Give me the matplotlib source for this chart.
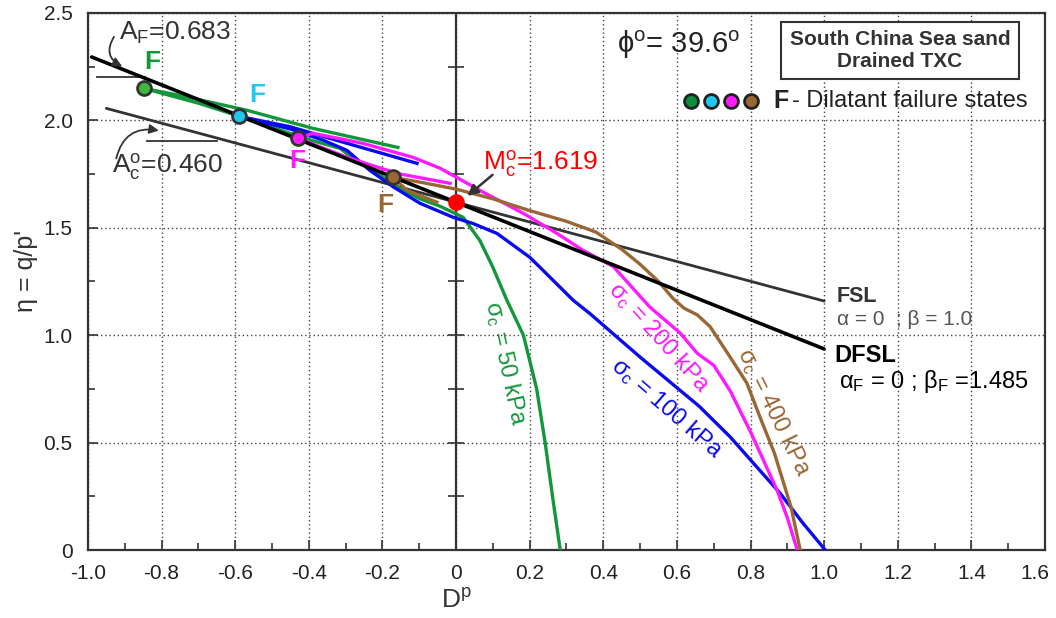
import matplotlib
matplotlib.use("Agg")
import matplotlib.pyplot as plt
import matplotlib.transforms as mtrans
import numpy as np

plt.rcParams['font.family'] = ['Liberation Sans', 'DejaVu Sans']
plt.rcParams['mathtext.fontset'] = 'custom'
plt.rcParams['mathtext.rm'] = 'Liberation Sans'
plt.rcParams['mathtext.it'] = 'Liberation Sans:italic'
plt.rcParams['mathtext.bf'] = 'Liberation Sans:bold'

# ---------------- data ----------------
M_c = 1.619
A_c = 0.460
A_F = 0.683
fsl_x = [-0.95, 1.0]
dfsl_x = [-0.99, 1.0]

# sigma_c = 50 kPa
g_load_x = [0.283, 0.262, 0.242, 0.219, 0.183, 0.138, 0.100, 0.065, 0.019, -0.043, -0.098, -0.160, -0.225, -0.270, -0.315, -0.389, -0.478, -0.590, -0.700, -0.848]
g_load_y = [0.0, 0.25, 0.50, 0.75, 1.00, 1.163, 1.316, 1.44, 1.549, 1.60, 1.635, 1.69, 1.767, 1.81, 1.87, 1.905, 1.955, 2.02, 2.08, 2.149]
g_post_x = [-0.848, -0.75, -0.568, -0.389, -0.158]
g_post_y = [2.149, 2.116, 2.047, 1.963, 1.874]

# sigma_c = 100 kPa
b_load_x = [1.003, 0.94, 0.88, 0.81, 0.745, 0.66, 0.50, 0.364, 0.318, 0.228, 0.20, 0.111, 0.046, -0.008, -0.098, -0.170, -0.234, -0.296, -0.360, -0.450, -0.590]
b_load_y = [0.0, 0.13, 0.265, 0.40, 0.526, 0.67, 0.898, 1.10, 1.163, 1.316, 1.363, 1.474, 1.52, 1.549, 1.614, 1.69, 1.767, 1.86, 1.907, 1.96, 2.019]
b_post_x = [-0.590, -0.45, -0.30, -0.106]
b_post_y = [2.019, 1.97, 1.895, 1.80]

# sigma_c = 200 kPa
m_load_x = [0.927, 0.90, 0.872, 0.80, 0.745, 0.70, 0.655, 0.609, 0.527, 0.427, 0.345, 0.274, 0.183, 0.065, -0.043, -0.117, -0.253, -0.389, -0.429]
m_load_y = [0.0, 0.15, 0.279, 0.55, 0.74, 0.86, 0.916, 1.01, 1.13, 1.32, 1.395, 1.474, 1.567, 1.674, 1.777, 1.828, 1.893, 1.94, 1.916]
m_post_x = [-0.429, -0.296, -0.160, -0.016]
m_post_y = [1.916, 1.828, 1.753, 1.707]

# sigma_c = 400 kPa
n_load_x = [0.935, 0.91, 0.865, 0.83, 0.79, 0.74, 0.69, 0.655, 0.62, 0.59, 0.55, 0.50, 0.45, 0.38, 0.30, 0.20, 0.10, 0.0, -0.09, -0.171]
n_load_y = [0.0, 0.20, 0.45, 0.60, 0.777, 0.91, 1.04, 1.095, 1.125, 1.17, 1.25, 1.33, 1.40, 1.48, 1.53, 1.58, 1.635, 1.68, 1.71, 1.735]
n_post_x = [-0.171, -0.133, -0.052]
n_post_y = [1.735, 1.674, 1.619]

# failure states
fail_x = [-0.848, -0.590, -0.429, -0.171]
fail_y = [2.149, 2.019, 1.916, 1.735]

x_ticks = [-1.0, -0.8, -0.6, -0.4, -0.2, 0, 0.2, 0.4, 0.6, 0.8, 1.0, 1.2, 1.4, 1.6]
x_ticklabels = ['-1.0', '-0.8', '-0.6', '-0.4', '-0.2', '0', '0.2', '0.4', '0.6', '0.8', '1.0', '1.2', '1.4', '1.6']
y_ticks = [0, 0.5, 1.0, 1.5, 2.0, 2.5]
y_ticklabels = ['0', '0.5', '1.0', '1.5', '2.0', '2.5']

GREEN = '#12973a'
CYAN = '#1ec8ef'
MAG = '#ff1aff'
BLUE = '#0a0af0'
BROWN = '#9a6634'

# ---------------- figure ----------------
fig = plt.figure(figsize=(10.56, 6.18), dpi=100)
ax = fig.add_axes([0.0833, 0.110, 0.9063, 0.869])
ax.set_xlim(-1.0, 1.6)
ax.set_ylim(0, 2.5)

ax.set_xticks(x_ticks)
ax.set_xticklabels(x_ticklabels)
ax.set_yticks(y_ticks)
ax.set_yticklabels(y_ticklabels)
ax.set_xticks(np.arange(-1.0, 1.61, 0.1), minor=True)
ax.set_yticks(np.arange(0, 2.51, 0.25), minor=True)
ax.tick_params(axis='both', which='both', direction='in', colors='#333333', labelcolor='#222222', labelsize=15)
ax.tick_params(axis='both', which='major', length=7, width=1.2)
ax.tick_params(axis='both', which='minor', length=5, width=1.2)
ax.tick_params(axis='x', pad=10)
ax.tick_params(axis='y', pad=11)
xl = ax.get_xticklabels()
xl[-1].set_transform(xl[-1].get_transform() + mtrans.ScaledTranslation(-7 / 72, 0, fig.dpi_scale_trans))
for s in ax.spines.values():
    s.set_color('#333333')
    s.set_linewidth(1.6)

ax.grid(True, which='major', color='#444444', linestyle=(0, (1, 2)), linewidth=1.0)
ax.set_axisbelow(True)

# vertical axis at D=0 with ticks
ax.axvline(0, color='#333333', lw=1.6, zorder=2)
yt = np.arange(0.25, 2.5, 0.25)
ax.plot(np.zeros_like(yt), yt, linestyle='none', marker='_', markersize=12, mew=1.2, color='#333333', zorder=2)

# FSL
ax.plot(fsl_x, [M_c - A_c * x for x in fsl_x], color='#333333', lw=2.0, zorder=3, solid_capstyle='round')

# curves
lw = 2.4
ax.plot(g_load_x, g_load_y, color=GREEN, lw=lw, zorder=4)
ax.plot(g_post_x, g_post_y, color=GREEN, lw=lw, zorder=4)
ax.plot(b_load_x, b_load_y, color=BLUE, lw=lw, zorder=4)
ax.plot(b_post_x, b_post_y, color=BLUE, lw=lw, zorder=4)
ax.plot(m_load_x, m_load_y, color=MAG, lw=lw, zorder=4)
ax.plot(m_post_x, m_post_y, color=MAG, lw=lw, zorder=4)
ax.plot(n_load_x, n_load_y, color=BROWN, lw=lw, zorder=4)
ax.plot(n_post_x, n_post_y, color=BROWN, lw=lw, zorder=4)

# DFSL
ax.plot(dfsl_x, [M_c - A_F * x for x in dfsl_x], color='black', lw=2.6, zorder=5, solid_capstyle='round')

# failure points
fcols = ['#3cb83c', CYAN, MAG, BROWN]
for xx, yy, cc in zip(fail_x, fail_y, fcols):
    ax.plot([xx], [yy], 'o', ms=10, mfc=cc, mec='#333333', mew=2, zorder=6)
ax.plot([0], [M_c], 'o', ms=12, color='#ff0000', mec='none', zorder=7)

# F labels
ax.text(-0.826, 2.27, 'F', color=GREEN, fontsize=19, fontweight='bold', ha='center', va='center', zorder=8)
ax.text(-0.54, 2.12, 'F', color=CYAN, fontsize=19, fontweight='bold', ha='center', va='center', zorder=8)
ax.text(-0.432, 1.81, 'F', color=MAG, fontsize=19, fontweight='bold', ha='center', va='center', zorder=8)
ax.text(-0.193, 1.605, 'F', color=BROWN, fontsize=19, fontweight='bold', ha='center', va='center', zorder=8)

# A_F annotation
ax.text(-0.915, 2.405, r'A$_\mathregular{F}$=0.683', fontsize=19, color='#333333', ha='left', va='center', zorder=8)
ax.annotate('', xy=(-0.90, 2.245), xytext=(-0.925, 2.40),
            arrowprops=dict(arrowstyle='-|>', color='#333333', lw=1.3, mutation_scale=14,
                            connectionstyle='arc3,rad=0.6'), zorder=8)
ax.plot([-0.976, -0.845], [2.2, 2.2], color='#333333', lw=1.3, zorder=3)

# A_c annotation
ax.text(-0.935, 1.785, r'A$_\mathregular{c}^\mathregular{o}$=0.460', fontsize=19, color='#333333', ha='left', va='center', zorder=8)
ax.annotate('', xy=(-0.80, 1.95), xytext=(-0.925, 1.81),
            arrowprops=dict(arrowstyle='-|>', color='#333333', lw=1.3, mutation_scale=14,
                            connectionstyle='arc3,rad=-0.5'), zorder=8)
ax.plot([-0.84, -0.65], [1.902, 1.902], color='#333333', lw=1.3, zorder=3)

# M_c annotation
ax.text(0.072, 1.80, r'M$_\mathregular{c}^\mathregular{o}$=1.619', fontsize=19, color='#ff0000', ha='left', va='center', zorder=8)
ax.annotate('', xy=(0.025, 1.64), xytext=(0.105, 1.755),
            arrowprops=dict(arrowstyle='-|>', color='#333333', lw=1.8, mutation_scale=16), zorder=8)

# phi
ax.text(0.605, 2.35, r'ϕ$^\mathregular{o}$= 39.6$^\mathregular{o}$', fontsize=21, color='#222222', ha='center', va='center')

# box
ax.text(1.206, 2.326, 'South China Sea sand\nDrained TXC', fontsize=15, fontweight='bold', color='#333333',
        ha='center', va='center', multialignment='center', linespacing=1.2,
        bbox=dict(boxstyle='square,pad=0.4', fc='white', ec='#333333', lw=1.5))

# legend row
for i, cc in enumerate(['#0b8f3a', CYAN, MAG, BROWN]):
    ax.plot([0.637 + i * 0.0545], [2.088], 'o', ms=10, mfc=cc, mec='#222222', mew=2, zorder=6)
ax.text(0.862, 2.088, 'F', fontsize=18, fontweight='bold', color='#222222', ha='left', va='center')
ax.text(0.913, 2.088, '- Dilatant failure states', fontsize=17, color='#222222', ha='left', va='center')

# FSL / DFSL labels
ax.text(1.035, 1.18, 'FSL', fontsize=15.5, fontweight='bold', color='#333333', ha='left', va='center')
ax.text(1.035, 1.075, 'α = 0  ; β = 1.0', fontsize=15, color='#555555', ha='left', va='center')
ax.text(1.027, 0.905, 'DFSL', fontsize=17, fontweight='bold', color='black', ha='left', va='center')
ax.text(1.04, 0.785, r'α$_\mathregular{F}$ = 0 ; β$_\mathregular{F}$ =1.485', fontsize=17, color='black', ha='left', va='center')

# sigma labels
ax.text(0.135, 0.87, r'σ$_\mathregular{c}$ = 50 kPa', fontsize=17, color=GREEN, rotation=-78, ha='center', va='center', rotation_mode='anchor')
ax.text(0.573, 0.66, r'σ$_\mathregular{c}$ = 100 kPa', fontsize=17, color=BLUE, rotation=-41, ha='center', va='center', rotation_mode='anchor')
ax.text(0.55, 0.99, r'σ$_\mathregular{c}$ = 200 kPa', fontsize=17, color=MAG, rotation=-48, ha='center', va='center', rotation_mode='anchor')
ax.text(0.862, 0.64, r'σ$_\mathregular{c}$ = 400 kPa', fontsize=17, color=BROWN, rotation=-64, ha='center', va='center', rotation_mode='anchor')

# axis labels
ax.set_xlabel(r'D$^\mathregular{p}$', fontsize=19, color='#333333')
ax.xaxis.set_label_coords(0.385, -0.072)
ax.set_ylabel("η = q/p'", fontsize=18, color='#333333')
ax.yaxis.set_label_coords(-0.052, 0.52)

fig.savefig('out.png', dpi=100)
